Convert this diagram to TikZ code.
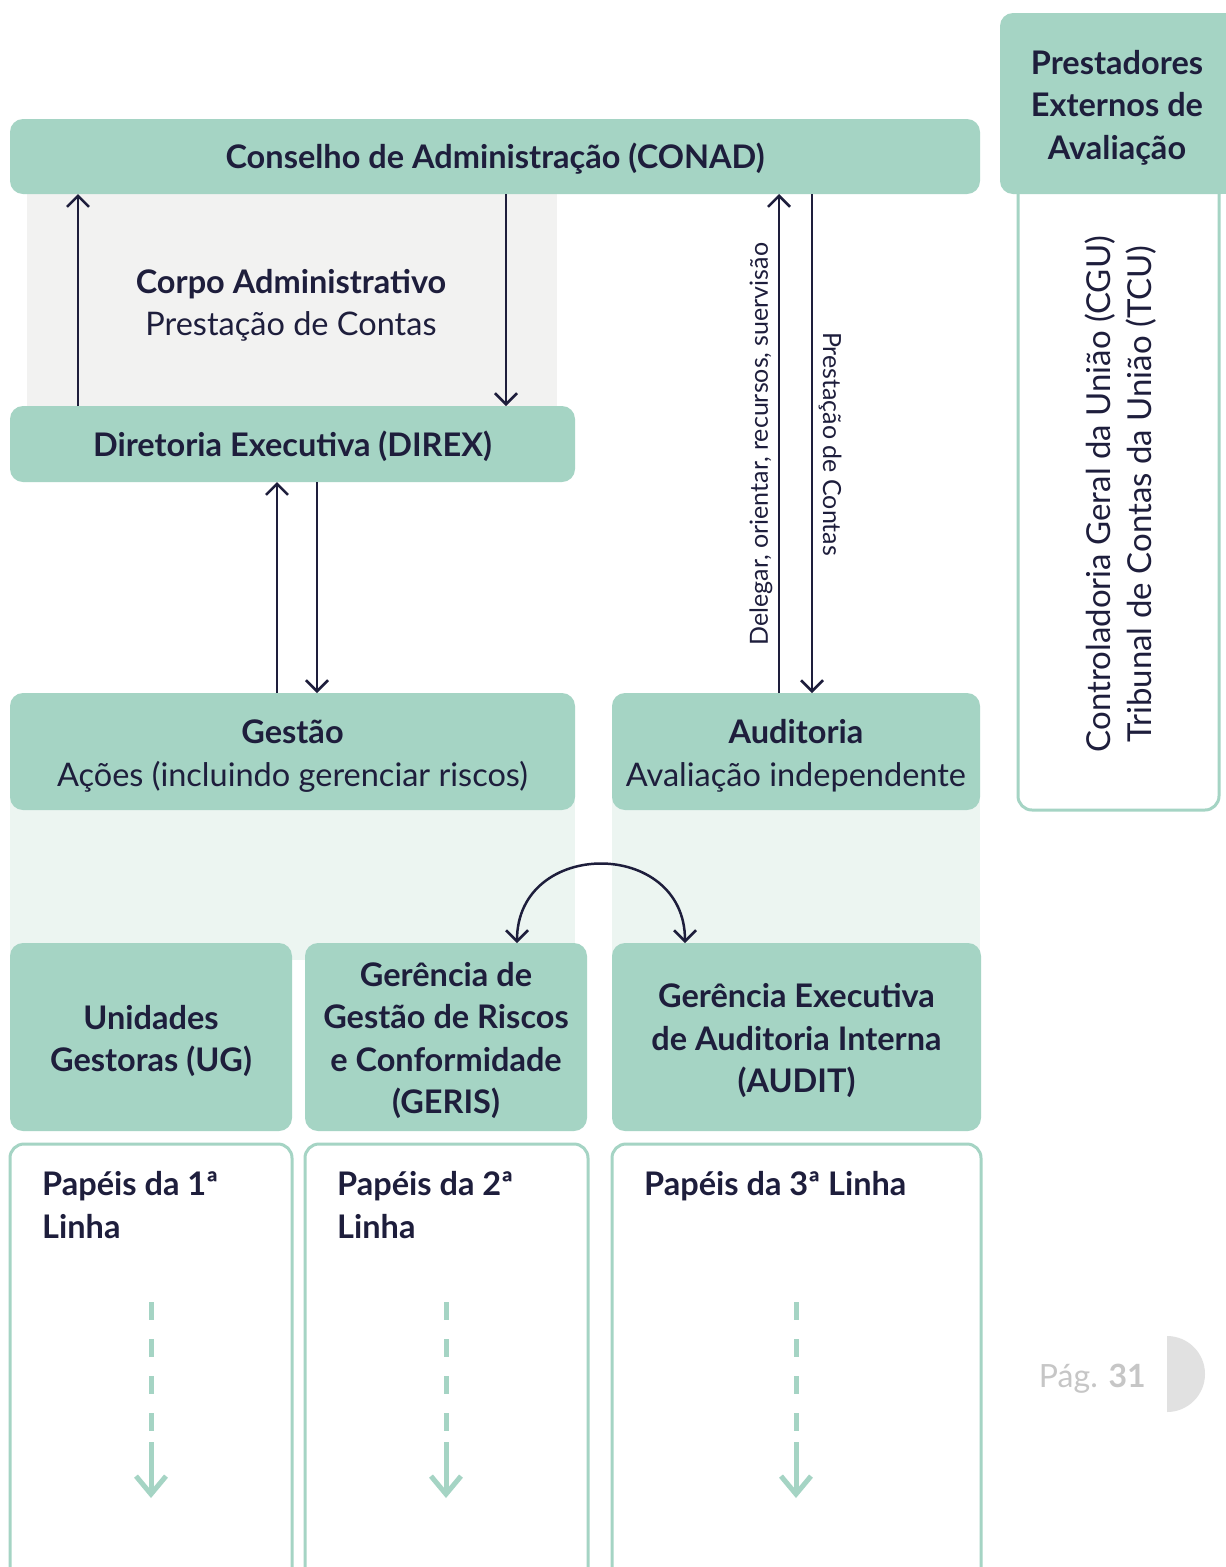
\documentclass[tikz,border=0pt]{standalone}
\usepackage{fontspec}
\setmainfont{Lato}
\usetikzlibrary{arrows.meta}
\definecolor{mint}{HTML}{A5D4C4}
\definecolor{mintlight}{HTML}{ECF5F1}
\definecolor{graybg}{HTML}{F2F2F1}
\definecolor{ink}{HTML}{1E1E3C}
\definecolor{pagegray}{HTML}{C6C6C6}
\definecolor{halfgray}{HTML}{E1E1E1}
\newcommand\dn[2][4.5pt]{\raisebox{-#1}[\height][\depth]{\begin{tabular}{@{}c@{}}#2\end{tabular}}}
\tikzset{
  box/.style={fill=mint, rounded corners=13pt, inner sep=0pt, outer sep=0pt,
    anchor=north west, text=ink, align=center, font=\fontsize{32.5}{42.5}\selectfont},
  outlinebox/.style={draw=mint, line width=3pt, rounded corners=14pt, inner sep=0pt,
    outer sep=0pt, anchor=north west},
  lbl/.style={text=ink, inner sep=0pt, align=center, font=\fontsize{32.5}{42}\selectfont},
  papel/.style={text=ink, inner sep=0pt, anchor=north west, align=left,
    font=\fontsize{32.5}{43}\selectfont\bfseries},
  small/.style={text=ink, inner sep=0pt, font=\fontsize{25}{30}\selectfont},
  arr/.style={draw=ink, line width=2.5pt, -{Straight Barb[length=11pt,width=22pt]}},
  dblarr/.style={draw=ink, line width=2.5pt,
    {Straight Barb[length=11pt,width=22pt]}-{Straight Barb[length=11pt,width=22pt]}},
  dasharr/.style={draw=mint, line width=5pt,
    dash pattern=on 18pt off 19pt on 18pt off 19pt on 18pt off 19pt on 18pt off 11pt on 200pt,
    -{Straight Barb[length=18pt,width=30pt]}},
}
\begin{document}
\begin{tikzpicture}[x=1pt,y=-1pt]
\useasboundingbox (0,0) rectangle (1226,1567);
\clip (0,0) rectangle (1226,1567);
\fill[white] (0,0) rectangle (1226,1567);

% backgrounds
\fill[graybg] (27,180) rectangle (557,420);
\fill[mintlight] (10,790) rectangle (575,960);
\fill[mintlight] (612,790) rectangle (980,960);

% external evaluators
\node[outlinebox, minimum width=201pt, minimum height=660pt] (ext) at (1018,150) {};
\fill[mint] (1215,13) rectangle (1240,194);
\node[box, minimum width=234pt, minimum height=181pt] (prest) at (1000,13)
  {\dn{\textbf{Prestadores}\\\textbf{Externos de}\\\textbf{Avaliação}}};
\node[lbl, rotate=90, font=\fontsize{33}{42}\selectfont] (cgu) at (1100,494)
  {Controladoria Geral da União (CGU)};
\node[lbl, rotate=90, font=\fontsize{33}{42}\selectfont] (tcu) at (1141,494)
  {Tribunal de Contas da União (TCU)};

% main boxes
\node[box, minimum width=970pt, minimum height=75pt] (conad) at (10,119)
  {\dn[3pt]{\textbf{Conselho de Administração (CONAD)}}};
\node[box, minimum width=565pt, minimum height=76pt] (direx) at (10,406)
  {\dn[4pt]{\textbf{Diretoria Executiva (DIREX)}}};
\node[lbl] (corpo) at (291,305)
  {\textbf{Corpo Administrativo}\\Prestação de Contas};
\node[box, minimum width=565pt, minimum height=117pt] (gestao) at (10,693)
  {\dn[5pt]{\textbf{Gestão}\\Ações (incluindo gerenciar riscos)}};
\node[box, minimum width=368pt, minimum height=117pt] (auditoria) at (612,693)
  {\dn[5pt]{\textbf{Auditoria}\\Avaliação independente}};
\node[box, minimum width=282pt, minimum height=188pt] (ug) at (10,943)
  {\dn[5pt]{\textbf{Unidades}\\\textbf{Gestoras (UG)}}};
\node[box, minimum width=282pt, minimum height=188pt] (geris) at (305,943)
  {\dn{\textbf{Gerência de}\\\textbf{Gestão de Riscos}\\\textbf{e Conformidade}\\\textbf{(GERIS)}}};
\node[box, minimum width=369pt, minimum height=188pt] (audit) at (612,943)
  {\dn{\textbf{Gerência Executiva}\\\textbf{de Auditoria Interna}\\\textbf{(AUDIT)}}};

% arrow coordinates
\coordinate (xa) at (78,0);
\coordinate (xb) at (506,0);
\coordinate (xc) at (277,0);
\coordinate (xd) at (317,0);
\coordinate (xe) at (779,0);
\coordinate (xf) at (812,0);
\coordinate (xg) at (517,0);
\coordinate (xh) at (685,0);

\draw[arr] (direx.north -| xa) -- (conad.south -| xa);
\draw[arr] (conad.south -| xb) -- (direx.north -| xb);
\draw[arr] (gestao.north -| xc) -- (direx.south -| xc);
\draw[arr] (direx.south -| xd) -- (gestao.north -| xd);
\draw[arr] (auditoria.north -| xe) -- (conad.south -| xe);
\draw[arr] (conad.south -| xf) -- (auditoria.north -| xf);
\draw[dblarr] (geris.north -| xg) .. controls +(0,-105) and +(0,-105) .. (audit.north -| xh);

\node[small, rotate=90] (deleg) at (761,444) {Delegar, orientar, recursos, suervisão};
\node[small, rotate=-90] (prestc) at (830,444) {Prestação de Contas};

% lines of defence
\node[outlinebox, minimum width=282pt, minimum height=480pt] (l1) at (10,1144) {};
\node[outlinebox, minimum width=283pt, minimum height=480pt] (l2) at (305,1144) {};
\node[outlinebox, minimum width=369pt, minimum height=480pt] (l3) at (612,1144) {};
\node[papel] (p1) at (42,1171) {Papéis da 1ª\\Linha};
\node[papel] (p2) at (337,1171) {Papéis da 2ª\\Linha};
\node[papel] (p3) at (644,1171) {Papéis da 3ª Linha};

\coordinate (d1s) at (151,1302); \coordinate (d1e) at (151,1498);
\coordinate (d2s) at (446,1302); \coordinate (d2e) at (446,1498);
\coordinate (d3s) at (796,1302); \coordinate (d3e) at (796,1498);
\draw[dasharr] (d1s) -- (d1e);
\draw[dasharr] (d2s) -- (d2e);
\draw[dasharr] (d3s) -- (d3e);

% page number
\begin{scope}
  \clip (1167,1330) rectangle (1215,1420);
  \fill[halfgray] (1167,1374) circle (38);
\end{scope}
\node[inner sep=0pt, anchor=east, text=pagegray, font=\fontsize{32}{36}\selectfont] (pg) at (1146,1379)
  {Pág. \textbf{31}};
\end{tikzpicture}
\end{document}
